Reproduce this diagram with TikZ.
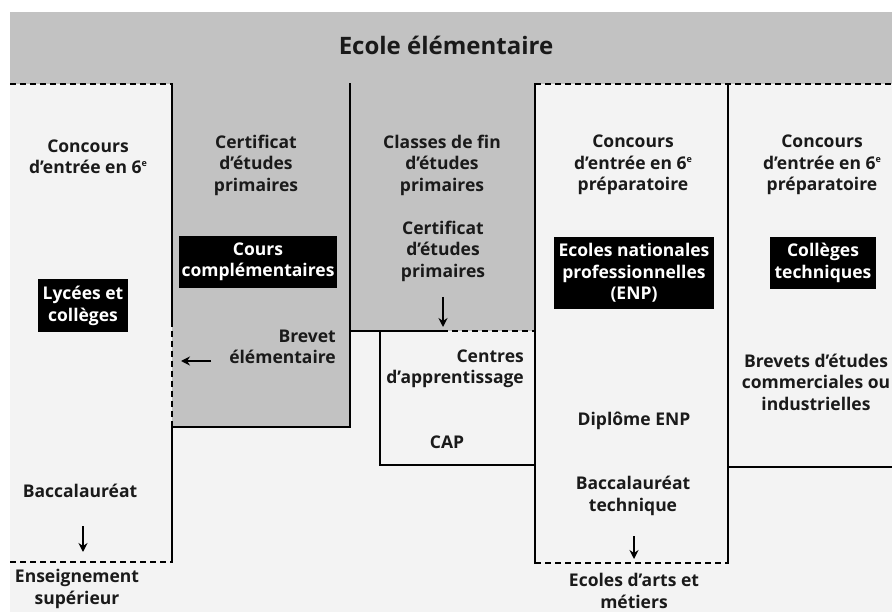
\documentclass[tikz,border=0pt]{standalone}
\usepackage{fontspec}
\setmainfont{Open Sans}
\usetikzlibrary{arrows.meta}
\definecolor{bandgray}{HTML}{C2C2C2}
\definecolor{paper}{HTML}{F3F3F3}
\definecolor{ink}{HTML}{1A1A1A}
\newcommand{\supe}{\raisebox{0.75ex}{\fontsize{9}{9}\selectfont e}}
\tikzset{
  txt/.style={align=center, font=\fontsize{17.5}{21.5}\selectfont\bfseries, text=ink, inner sep=0pt},
  blackbox/.style={fill=black, text=white, align=center, inner sep=0pt,
    font=\fontsize{17.5}{21.5}\selectfont\bfseries},
  frame/.style={line width=1.8pt, line cap=rect},
  dframe/.style={line width=1.8pt, dash pattern=on 6pt off 4pt},
  arr/.style={line width=1.8pt, -{Stealth[length=9pt,width=9pt]}}
}
\begin{document}
\begin{tikzpicture}[x=1pt,y=-1pt]
\useasboundingbox (0,0) rectangle (892,612);
% backgrounds
\fill[white] (0,0) rectangle (892,612);
\fill[paper] (10,84) rectangle (892,612);
\fill[bandgray] (10,12) rectangle (892,84);
\fill[bandgray] (172,84) rectangle (350,427);
\fill[bandgray] (350,84) rectangle (534,331);
% title
\node[txt, font=\fontsize{24}{28}\selectfont\bfseries] (title) at (446,45) {Ecole élémentaire};
% frames
\draw[dframe] (10,84) -- (172,84);
\draw[frame] (172,84) -- (172,321);
\draw[dframe] (172,321) -- (172,424);
\draw[frame] (172,424) -- (172,562);
\draw[dframe] (10,562) -- (172,562);
\draw[frame] (172,427) -- (350,427) -- (350,84);
\draw[frame] (350,331) -- (442,331);
\draw[dframe] (442,331) -- (534,331);
\draw[frame] (380,331) -- (380,465) -- (535,465);
\draw[frame] (535,84) -- (535,563);
\draw[dframe] (535,84) -- (892,84);
\draw[frame] (728,84) -- (728,563);
\draw[dframe] (535,563) -- (728,563);
\draw[frame] (728,467) -- (892,467);
% column 1
\node[txt] (c1a) at (88,157) {Concours\\d’entrée en 6\supe};
\node[blackbox, minimum width=90pt, minimum height=53pt] (lyc) at (83,306) {Lycées et\\collèges};
\node[txt] (bac) at (80,491) {Baccalauréat};
\node[txt] (ens) at (77,589) {Enseignement\\supérieur};
\coordinate (a1s) at (83,526);
\coordinate (a1e) at (83,552);
\draw[arr] (a1s) -- (a1e);
% column 2
\node[txt] (c2a) at (256,165) {Certificat\\d’études\\primaires};
\node[blackbox, minimum width=158pt, minimum height=52pt] (cours) at (258,262) {Cours\\complémentaires};
\node[txt, align=right, anchor=east] (brev) at (336,347) {Brevet\\élémentaire};
\coordinate (a2s) at (211,361);
\coordinate (a2e) at (181,361);
\draw[arr] (a2s) -- (a2e);
% column 3
\node[txt] (c3a) at (442,165) {Classes de fin\\d’études\\primaires};
\node[txt] (c3b) at (443,251) {Certificat\\d’études\\primaires};
\coordinate (a3s) at (443,297);
\coordinate (a3e) at (443,327);
\draw[arr] (a3s) -- (a3e);
\node[txt, align=right, anchor=east] (centres) at (524,369) {Centres\\d’apprentissage};
\node[txt] (cap) at (447,442) {CAP};
% column 4
\node[txt] (c4a) at (633,165) {Concours\\d’entrée en 6\supe\\préparatoire};
\node[blackbox, minimum width=160pt, minimum height=72pt] (enp) at (634,273) {Ecoles nationales\\professionnelles\\(ENP)};
\node[txt] (dipl) at (634,421) {Diplôme ENP};
\node[txt] (bact) at (633,496) {Baccalauréat\\technique};
\coordinate (a4s) at (634,536);
\coordinate (a4e) at (634,559);
\draw[arr] (a4s) -- (a4e);
\node[txt] (arts) at (634,591) {Ecoles d’arts et\\métiers};
% column 5
\node[txt] (c5a) at (822,165) {Concours\\d’entrée en 6\supe\\préparatoire};
\node[blackbox, minimum width=106pt, minimum height=52pt] (coll) at (823,263) {Collèges\\techniques};
\node[txt] (brevs) at (816,382) {Brevets d’études\\commerciales ou\\industrielles};
\end{tikzpicture}
\end{document}
